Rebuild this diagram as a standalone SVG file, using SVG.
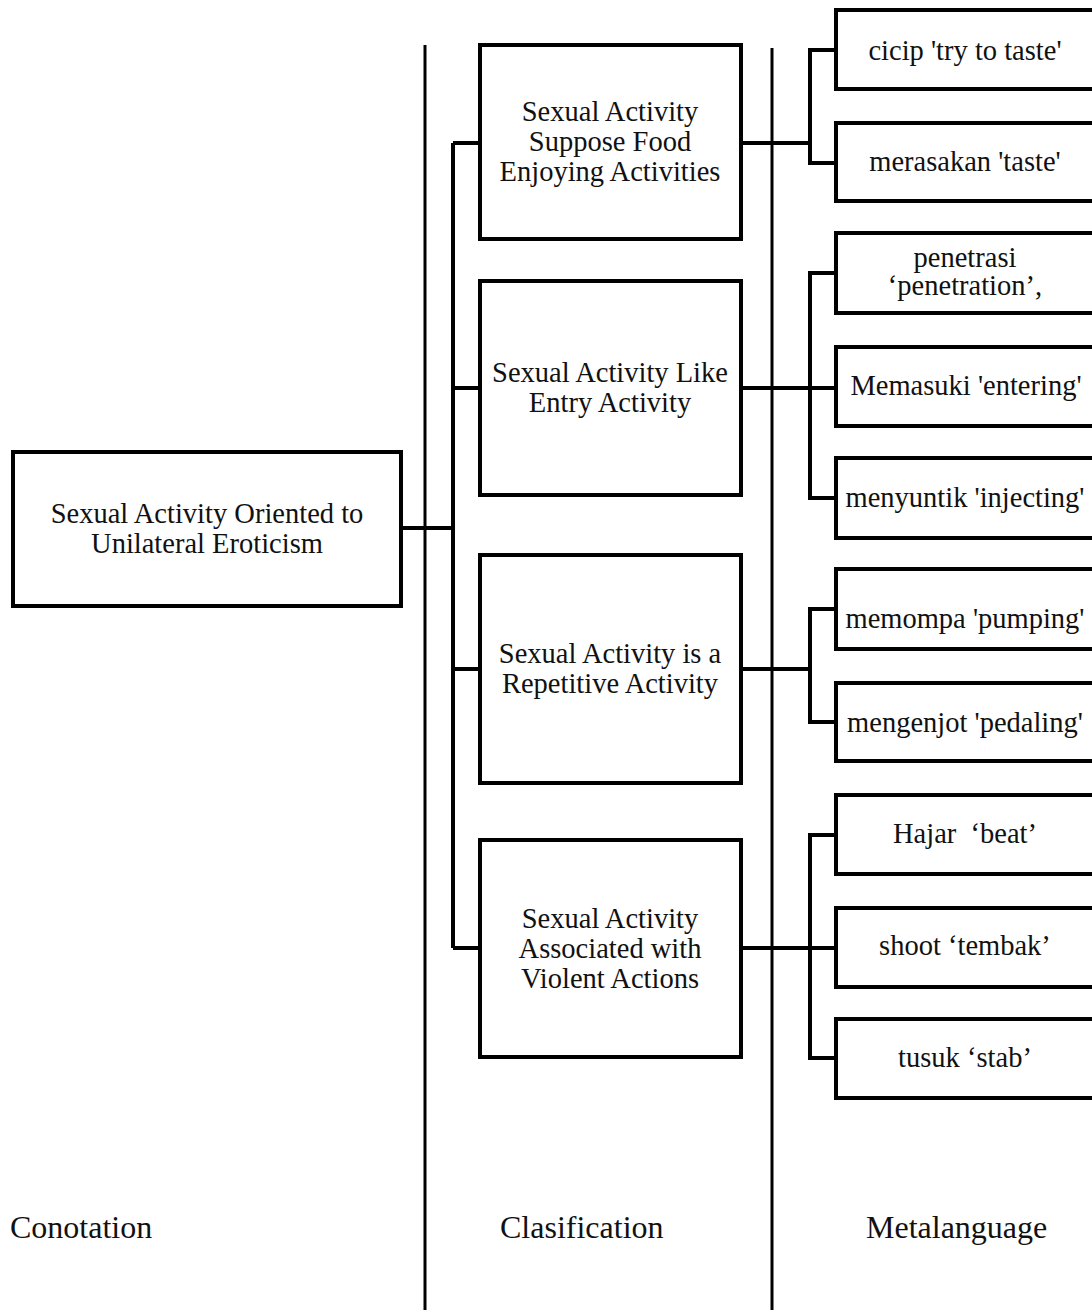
<svg xmlns="http://www.w3.org/2000/svg" width="1092" height="1310" viewBox="0 0 1092 1310">
  <style>
    .box { fill: #ffffff; stroke: #000000; stroke-width: 4; }
    .link { fill: none; stroke: #000000; stroke-width: 4; stroke-linejoin: miter; }
    .divider { stroke: #000000; stroke-width: 3; }
    text { font-family: "Liberation Serif", Tinos, "Times New Roman", "DejaVu Serif", serif; fill: #111111; }
    .t { font-size: 28.5px; text-anchor: middle; }
    .col { font-size: 32px; }
  </style>
  <rect x="0" y="0" width="1092" height="1310" fill="#ffffff"/>

  <!-- column dividers -->
  <g id="dividers">
    <line class="divider" x1="425" y1="45" x2="425" y2="1310"/>
    <line class="divider" x1="772" y1="48" x2="772" y2="1310"/>
  </g>

  <!-- connectors -->
  <g id="connectors">
    <path class="link" d="M401 528 H453"/>
    <path class="link" d="M453 143 V948"/>
    <path class="link" d="M453 143 H480 M453 388 H480 M453 669 H480 M453 948 H480"/>
    <path class="link" d="M741 143 H810 M741 388 H810 M741 669 H810 M741 948 H810"/>
    <path class="link" d="M836 50 H810 V163 H836"/>
    <path class="link" d="M836 273 H810 V498 H836 M810 388 H836"/>
    <path class="link" d="M836 609 H810 V722 H836"/>
    <path class="link" d="M836 835 H810 V1058 H836 M810 948 H836"/>
  </g>

  <!-- connotation -->
  <g id="node-root">
    <rect class="box" x="13" y="452" width="388" height="154"/>
    <text class="t" x="207" y="523">Sexual Activity Oriented to</text>
    <text class="t" x="207" y="553">Unilateral Eroticism</text>
  </g>

  <!-- classification -->
  <g id="node-food">
    <rect class="box" x="480" y="45" width="261" height="194"/>
    <text class="t" x="610" y="121">Sexual Activity</text>
    <text class="t" x="610" y="151">Suppose Food</text>
    <text class="t" x="610" y="181">Enjoying Activities</text>
  </g>
  <g id="node-entry">
    <rect class="box" x="480" y="281" width="261" height="214"/>
    <text class="t" x="610" y="382">Sexual Activity Like</text>
    <text class="t" x="610" y="412">Entry Activity</text>
  </g>
  <g id="node-repetitive">
    <rect class="box" x="480" y="555" width="261" height="228"/>
    <text class="t" x="610" y="663">Sexual Activity is a</text>
    <text class="t" x="610" y="693">Repetitive Activity</text>
  </g>
  <g id="node-violent">
    <rect class="box" x="480" y="840" width="261" height="217"/>
    <text class="t" x="610" y="928">Sexual Activity</text>
    <text class="t" x="610" y="958">Associated with</text>
    <text class="t" x="610" y="988">Violent Actions</text>
  </g>

  <!-- metalanguage -->
  <g id="node-cicip">
    <rect class="box" x="836" y="10" width="259" height="79"/>
    <text class="t" x="965" y="60">cicip 'try to taste'</text>
  </g>
  <g id="node-merasakan">
    <rect class="box" x="836" y="123" width="259" height="78"/>
    <text class="t" x="965" y="171">merasakan 'taste'</text>
  </g>
  <g id="node-penetrasi">
    <rect class="box" x="836" y="233" width="259" height="80"/>
    <text class="t" x="965" y="267">penetrasi</text>
    <text class="t" x="965" y="295">‘penetration’,</text>
  </g>
  <g id="node-memasuki">
    <rect class="box" x="836" y="347" width="259" height="79"/>
    <text class="t" x="966" y="395">Memasuki 'entering'</text>
  </g>
  <g id="node-menyuntik">
    <rect class="box" x="836" y="458" width="259" height="80"/>
    <text class="t" x="965" y="507">menyuntik 'injecting'</text>
  </g>
  <g id="node-memompa">
    <rect class="box" x="836" y="569" width="259" height="80"/>
    <text class="t" x="965" y="628">memompa 'pumping'</text>
  </g>
  <g id="node-mengenjot">
    <rect class="box" x="836" y="683" width="259" height="78"/>
    <text class="t" x="965" y="732">mengenjot 'pedaling'</text>
  </g>
  <g id="node-hajar">
    <rect class="box" x="836" y="795" width="259" height="79"/>
    <text class="t" x="965" y="843" xml:space="preserve">Hajar  ‘beat’</text>
  </g>
  <g id="node-shoot">
    <rect class="box" x="836" y="908" width="259" height="79"/>
    <text class="t" x="965" y="955">shoot ‘tembak’</text>
  </g>
  <g id="node-tusuk">
    <rect class="box" x="836" y="1019" width="259" height="79"/>
    <text class="t" x="965" y="1067">tusuk ‘stab’</text>
  </g>

  <!-- column headings -->
  <g id="headings">
    <text class="col" x="10" y="1238">Conotation</text>
    <text class="col" x="500" y="1238">Clasification</text>
    <text class="col" x="866" y="1238">Metalanguage</text>
  </g>
</svg>
